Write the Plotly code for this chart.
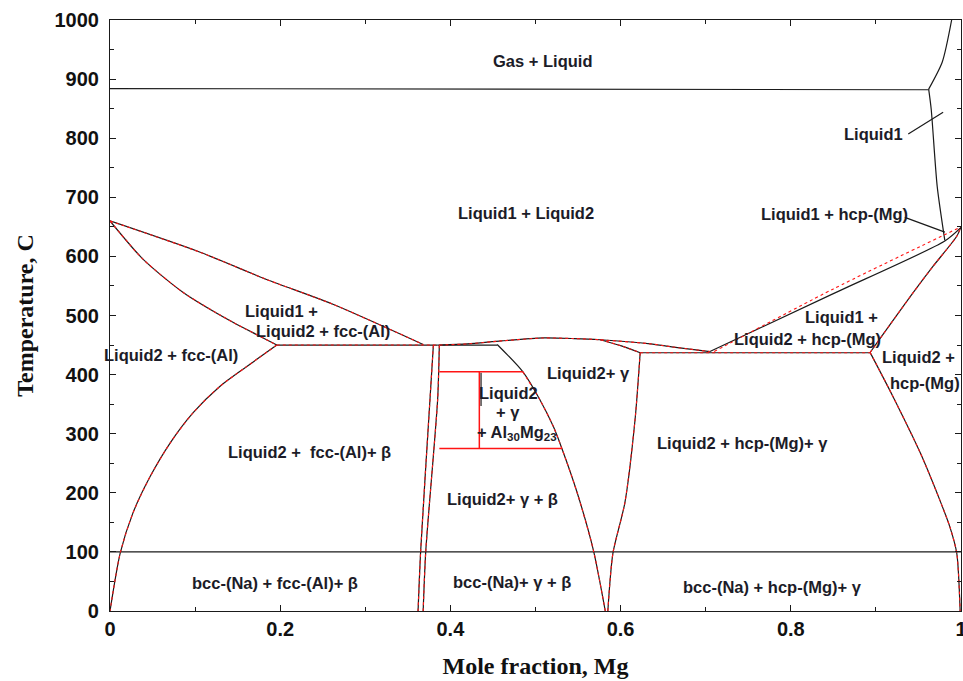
import plotly.graph_objects as go

# ---------------- phase boundaries (x = mole fraction Mg, T in deg C) ----------------
gas_x = [0.0, 0.962]
gas_T = [884, 882]

gas_l1_x = [0.962, 0.978, 0.989]
gas_l1_T = [883, 929, 1000]

liquid1_x = [0.962, 0.965, 0.972, 0.981]
liquid1_T = [883, 849, 719, 627]

al_liq_upper_x = [0.0, 0.106, 0.184, 0.262, 0.368]
al_liq_upper_T = [660, 607, 561, 519, 451]

al_liq_lower_x = [0.0, 0.039, 0.086, 0.145, 0.176, 0.196]
al_liq_lower_T = [660, 595, 539, 488, 465, 450]

mono_left_x = [0.196, 0.385]
mono_left_T = [450, 450]

mono_left_ext_x = [0.385, 0.455]
mono_left_ext_T = [450, 450]

fcc_solvus_x = [0.196, 0.160, 0.129, 0.098, 0.071, 0.047, 0.027, 0.012, 0.0]
fcc_solvus_T = [450, 413, 380, 336, 285, 227, 166, 98, 0]

beta_left_x = [0.380, 0.376, 0.365, 0.362]
beta_left_T = [450, 358, 100, 0]
beta_right_x = [0.387, 0.385, 0.371, 0.368]
beta_right_T = [450, 358, 100, 0]

dome_x = [0.387, 0.42, 0.46, 0.509, 0.545, 0.576, 0.635, 0.66, 0.705]
dome_T = [450, 452, 457, 462, 461, 459, 452, 447, 439]

gamma_liq_left_x = [0.455, 0.485, 0.505, 0.521, 0.531, 0.549, 0.568, 0.582]
gamma_liq_left_T = [451, 405, 358, 312, 275, 200, 103, 0]

gamma_liq_right_x = [0.576, 0.600, 0.623]
gamma_liq_right_T = [459, 449, 437]

gamma_solvus_x = [0.623, 0.617, 0.605, 0.591, 0.585]
gamma_solvus_T = [437, 324, 183, 98, 0]

mono_right_x = [0.623, 0.893]
mono_right_T = [437, 437]

l1_liq_right_x = [0.705, 0.850, 0.981, 1.0]
l1_liq_right_T = [439, 537, 626, 649]

l1_liq_right_calc_x = [0.710, 0.850, 1.0]
l1_liq_right_calc_T = [439, 545, 650]

hcp_liq_x = [0.893, 0.944, 0.967, 0.995, 1.0]
hcp_liq_T = [437, 539, 583, 634, 650]

hcp_solvus_x = [0.893, 0.920, 0.952, 0.975, 0.987, 0.995, 0.999]
hcp_solvus_T = [438, 363, 268, 188, 142, 98, 0]

na_line_x = [0.0, 1.0]
na_line_T = [100, 100]

# Al30Mg23 box
al30_top_x = [0.387, 0.485]
al30_top_T = [405, 405]
al30_bot_x = [0.387, 0.531]
al30_bot_T = [275, 275]
al30_div_x = [0.434, 0.434]
al30_div_T = [275, 405]
al30_tick_x = [0.436, 0.436]
al30_tick_T = [403, 347]

# leader lines for small regions
lead_l1_x = [0.938, 0.979]
lead_l1_T = [807, 844]
lead_l1hcp_x = [0.934, 0.981]
lead_l1hcp_T = [666, 641]

# ---------------- region labels ----------------
label_text = [
    "Gas + Liquid", "Liquid1", "Liquid1 + Liquid2", "Liquid1 + hcp-(Mg)",
    "Liquid1 +", "Liquid2 + fcc-(Al)", "Liquid2 + fcc-(Al)",
    "Liquid1 +", "Liquid2 + hcp-(Mg)", "Liquid2 +", "hcp-(Mg)",
    "Liquid2+ γ", "Liquid2", "+ γ", "+ Al<sub>30</sub>Mg<sub>23</sub>",
    "Liquid2 +  fcc-(Al)+ β", "Liquid2+ γ + β", "Liquid2 + hcp-(Mg)+ γ",
    "bcc-(Na) + fcc-(Al)+ β", "bcc-(Na)+ γ + β", "bcc-(Na) + hcp-(Mg)+ γ",
]
label_x = [0.508, 0.897, 0.489, 0.851,
           0.201, 0.250, 0.072,
           0.859, 0.820, 0.950, 0.958,
           0.562, 0.468, 0.468, 0.478,
           0.235, 0.461, 0.743,
           0.194, 0.472, 0.779]
label_T = [930, 807, 673, 671,
           507, 473, 434,
           498, 461, 429, 386,
           402, 369, 337, 302,
           269, 190, 285,
           47, 49, 41]

x_ticks = [0, 0.2, 0.4, 0.6, 0.8, 1.0]
x_tick_text = ["0", "0.2", "0.4", "0.6", "0.8", "1"]
y_ticks = list(range(0, 1001, 100))

BLACK = "#1a1a1a"
RED = "#ff1414"

fig = go.Figure()


def add_curve(xs, ts, color=BLACK, dash="solid", width=1.2):
    shape = "spline" if len(xs) > 2 else "linear"
    fig.add_trace(go.Scatter(x=xs, y=ts, mode="lines",
                             line=dict(color=color, dash=dash, width=width,
                                       shape=shape, smoothing=0.7),
                             hoverinfo="skip", showlegend=False))


# black boundaries
for xs, ts in [
    (gas_x, gas_T), (gas_l1_x, gas_l1_T), (liquid1_x, liquid1_T),
    (al_liq_upper_x, al_liq_upper_T), (al_liq_lower_x, al_liq_lower_T),
    (mono_left_x, mono_left_T), (mono_left_ext_x, mono_left_ext_T),
    (fcc_solvus_x, fcc_solvus_T), (beta_left_x, beta_left_T),
    (beta_right_x, beta_right_T), (dome_x, dome_T),
    (gamma_liq_left_x, gamma_liq_left_T), (gamma_liq_right_x, gamma_liq_right_T),
    (gamma_solvus_x, gamma_solvus_T), (mono_right_x, mono_right_T),
    (l1_liq_right_x, l1_liq_right_T), (hcp_liq_x, hcp_liq_T),
    (hcp_solvus_x, hcp_solvus_T), (na_line_x, na_line_T),
    (al30_tick_x, al30_tick_T), (lead_l1_x, lead_l1_T), (lead_l1hcp_x, lead_l1hcp_T),
]:
    add_curve(xs, ts)

# Al30Mg23 box (solid red)
for xs, ts in [(al30_top_x, al30_top_T), (al30_bot_x, al30_bot_T), (al30_div_x, al30_div_T)]:
    add_curve(xs, ts, color=RED, width=1.5)

# calculated boundaries (dashed red)
for xs, ts in [
    (al_liq_upper_x, al_liq_upper_T), (al_liq_lower_x, al_liq_lower_T),
    (mono_left_x, mono_left_T), (fcc_solvus_x, fcc_solvus_T),
    (beta_left_x, beta_left_T), (beta_right_x, beta_right_T),
    (dome_x, dome_T), (gamma_liq_left_x[1:], gamma_liq_left_T[1:]),
    (gamma_liq_right_x, gamma_liq_right_T), (gamma_solvus_x, gamma_solvus_T),
    (mono_right_x, mono_right_T), (l1_liq_right_calc_x, l1_liq_right_calc_T),
    (hcp_liq_x, hcp_liq_T), (hcp_solvus_x, hcp_solvus_T),
]:
    add_curve(xs, ts, color=RED, dash="3px,3px", width=1.1)

for txt, lx, lt in zip(label_text, label_x, label_T):
    fig.add_annotation(x=lx, y=lt, text=txt, showarrow=False,
                       font=dict(family="Liberation Sans, Arial", size=16.5,
                                 color="#1c1c28", weight="bold"))

axis_common = dict(
    showline=True, linecolor=BLACK, linewidth=1.2, mirror="ticks",
    ticks="inside", ticklen=6, tickcolor=BLACK, tickwidth=1.2,
    showgrid=False, zeroline=False, ticklabeloverflow="allow", automargin=False,
    tickfont=dict(family="Liberation Sans, Arial", size=20, color="#111111", weight="bold"),
)

fig.update_xaxes(
    range=[0, 1], tickvals=x_ticks, ticktext=x_tick_text,
    minor=dict(dtick=0.1, ticks="inside", ticklen=4, tickcolor=BLACK, showgrid=False),
    title=dict(text="Mole fraction, Mg", standoff=18,
               font=dict(family="Liberation Serif, Times New Roman", size=24,
                         color="#111111", weight="bold")),
    **axis_common,
)
fig.update_yaxes(
    range=[0, 1000], tickvals=y_ticks,
    minor=dict(dtick=50, ticks="inside", ticklen=4, tickcolor=BLACK, showgrid=False),
    ticklabelstandoff=6,
    title=dict(text="Temperature, C", standoff=14,
               font=dict(family="Liberation Serif, Times New Roman", size=24,
                         color="#111111", weight="bold")),
    **axis_common,
)

fig.update_layout(
    width=963, height=681,
    margin=dict(l=110, r=2, t=20, b=70),
    plot_bgcolor="white", paper_bgcolor="white",
    showlegend=False,
)

fig.write_html("out.html")
